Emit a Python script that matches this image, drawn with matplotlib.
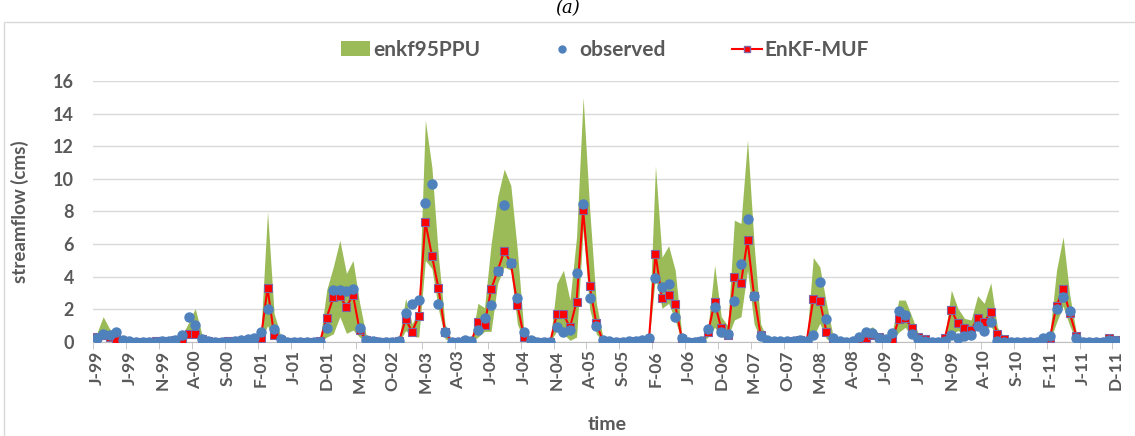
import matplotlib.pyplot as plt
from matplotlib.patches import Patch, Rectangle
from matplotlib.lines import Line2D
import numpy as np

# monthly values, Jan 1999 .. Dec 2011 (156 months)
observed = [
    0.25, 0.5, 0.45, 0.6, 0.1, 0.05, 0.03, 0.02, 0.02, 0.03, 0.05, 0.05,
    0.1, 0.4, 1.55, 1.05, 0.2, 0.05, 0.03, 0.02, 0.03, 0.05, 0.1, 0.2,
    0.25, 0.63, 2.0, 0.78, 0.16, 0.02, 0.02, 0.02, 0.02, 0.02, 0.03, 0.84,
    3.18, 3.18, 3.1, 3.24, 0.84, 0.12, 0.05, 0.03, 0.02, 0.02, 0.08, 1.75,
    2.3, 2.57, 8.53, 9.71, 2.3, 0.63, 0.03, 0.03, 0.15, 0.05, 0.73, 1.45,
    2.27, 4.37, 8.39, 4.86, 2.67, 0.63, 0.1, 0.03, 0.02, 0.03, 0.9, 0.63,
    0.73, 4.2, 8.49, 2.71, 0.98, 0.1, 0.05, 0.03, 0.02, 0.05, 0.08, 0.15,
    0.25, 3.9, 3.35, 3.55, 1.55, 0.22, 0.03, 0.02, 0.05, 0.8, 2.16, 0.63,
    0.49, 2.51, 4.8, 7.57, 2.84, 0.39, 0.12, 0.05, 0.05, 0.05, 0.08, 0.15,
    0.05, 0.43, 3.67, 1.39, 0.22, 0.05, 0.02, 0.05, 0.33, 0.63, 0.53, 0.22,
    0.16, 0.53, 1.92, 1.65, 0.49, 0.16, 0.05, 0.02, 0.02, 0.08, 0.43, 0.22,
    0.39, 0.43, 0.98, 0.69, 1.2, 0.06, 0.02, 0.02, 0.02, 0.02, 0.02, 0.02,
    0.22, 0.39, 2.02, 2.73, 1.92, 0.22, 0.03, 0.02, 0.02, 0.02, 0.12, 0.08,
]
enkf_muf = [
    0.3, 0.4, 0.3, 0.2, 0.05, 0.03, 0.03, 0.03, 0.03, 0.05, 0.08, 0.08,
    0.1, 0.1, 0.5, 0.5, 0.2, 0.05, 0.03, 0.03, 0.05, 0.05, 0.08, 0.05,
    0.05, 0.27, 3.3, 0.43, 0.1, 0.02, 0.02, 0.02, 0.02, 0.02, 0.05, 1.5,
    2.73, 2.8, 2.16, 2.88, 0.73, 0.1, 0.05, 0.03, 0.03, 0.03, 0.05, 1.39,
    0.63, 1.6, 7.35, 5.3, 3.29, 0.6, 0.02, 0.03, 0.05, 0.03, 1.2, 1.04,
    3.22, 4.37, 5.59, 4.86, 2.27, 0.33, 0.05, 0.03, 0.03, 0.03, 1.7, 1.7,
    0.9, 2.47, 8.08, 3.43, 1.14, 0.08, 0.03, 0.02, 0.02, 0.03, 0.05, 0.05,
    0.1, 5.39, 2.67, 2.88, 2.3, 0.2, 0.03, 0.02, 0.05, 0.6, 2.43, 0.84,
    0.45, 3.96, 3.6, 6.24, 2.84, 0.4, 0.03, 0.03, 0.03, 0.03, 0.05, 0.1,
    0.05, 2.63, 2.53, 0.63, 0.1, 0.03, 0.02, 0.03, 0.1, 0.22, 0.43, 0.3,
    0.08, 0.12, 1.39, 1.45, 0.84, 0.33, 0.16, 0.03, 0.02, 0.22, 1.96, 1.14,
    0.84, 0.73, 1.45, 1.24, 1.82, 0.49, 0.16, 0.02, 0.02, 0.02, 0.02, 0.02,
    0.02, 0.27, 2.22, 3.24, 1.8, 0.39, 0.03, 0.02, 0.02, 0.02, 0.22, 0.12,
]
ppu_low = [
    0.1, 0.2, 0.15, 0.1, 0.0, 0.0, 0.0, 0.0, 0.0, 0.0, 0.0, 0.0,
    0.0, 0.05, 0.3, 0.3, 0.05, 0.0, 0.0, 0.0, 0.0, 0.0, 0.0, 0.0,
    0.0, 0.1, 1.0, 0.2, 0.02, 0.0, 0.0, 0.0, 0.0, 0.0, 0.0, 0.3,
    0.5, 1.55, 0.53, 0.73, 0.3, 0.02, 0.0, 0.0, 0.0, 0.0, 0.0, 0.7,
    0.35, 0.3, 5.0, 4.5, 2.0, 0.2, 0.0, 0.0, 0.0, 0.0, 0.3, 0.65,
    0.65, 3.6, 4.6, 4.4, 1.1, 0.1, 0.0, 0.0, 0.0, 0.0, 0.7, 0.5,
    0.1, 0.3, 6.9, 2.0, 0.5, 0.02, 0.0, 0.0, 0.0, 0.0, 0.0, 0.0,
    0.0, 4.0, 2.06, 2.37, 1.35, 0.05, 0.0, 0.0, 0.0, 0.3, 0.9, 0.3,
    0.3, 1.35, 1.55, 4.4, 1.1, 0.15, 0.0, 0.0, 0.0, 0.0, 0.0, 0.0,
    0.0, 0.3, 1.14, 0.2, 0.02, 0.0, 0.0, 0.0, 0.05, 0.1, 0.25, 0.1,
    0.0, 0.05, 0.6, 0.9, 0.3, 0.05, 0.0, 0.0, 0.0, 0.0, 0.45, 0.7,
    0.5, 0.5, 0.8, 0.7, 1.0, 0.15, 0.02, 0.0, 0.0, 0.0, 0.0, 0.0,
    0.0, 0.1, 1.2, 2.2, 1.0, 0.1, 0.0, 0.0, 0.0, 0.0, 0.0, 0.0,
]
ppu_up = [
    0.5, 1.55, 0.8, 0.5, 0.2, 0.1, 0.08, 0.08, 0.08, 0.1, 0.15, 0.15,
    0.2, 0.4, 1.2, 2.05, 0.5, 0.15, 0.1, 0.08, 0.1, 0.12, 0.15, 0.25,
    0.3, 0.6, 8.0, 1.75, 0.4, 0.06, 0.06, 0.06, 0.06, 0.06, 0.15, 3.2,
    4.6, 6.24, 4.2, 5.0, 2.4, 0.4, 0.15, 0.08, 0.08, 0.08, 0.2, 2.67,
    1.1, 2.0, 13.6, 10.7, 5.2, 1.1, 0.1, 0.08, 0.15, 0.1, 2.37, 2.1,
    6.0, 8.9, 10.6, 9.6, 5.6, 0.6, 0.2, 0.08, 0.08, 0.1, 3.6, 4.4,
    2.57, 6.45, 15.0, 8.1, 2.4, 0.3, 0.1, 0.08, 0.08, 0.1, 0.15, 0.2,
    0.35, 10.8, 5.2, 5.9, 4.4, 0.5, 0.1, 0.08, 0.15, 0.9, 4.7, 1.55,
    1.0, 7.47, 7.27, 12.4, 6.0, 1.1, 0.2, 0.1, 0.1, 0.1, 0.15, 0.25,
    0.15, 5.18, 4.6, 2.37, 0.4, 0.1, 0.08, 0.1, 0.4, 0.7, 0.94, 0.5,
    0.25, 0.6, 2.57, 2.57, 1.55, 0.5, 0.25, 0.08, 0.08, 0.3, 3.18, 2.06,
    1.45, 1.35, 2.84, 2.37, 3.63, 0.9, 0.3, 0.06, 0.06, 0.06, 0.06, 0.06,
    0.1, 0.6, 4.4, 6.45, 2.9, 0.6, 0.1, 0.06, 0.06, 0.06, 0.3, 0.2,
]
tick_labels = [
    'J-99', 'J-99', 'N-99', 'A-00', 'S-00', 'F-01', 'J-01', 'D-01',
    'M-02', 'O-02', 'M-03', 'A-03', 'J-04', 'J-04', 'N-04', 'A-05',
    'S-05', 'F-06', 'J-06', 'D-06', 'M-07', 'O-07', 'M-08', 'A-08',
    'J-09', 'J-09', 'N-09', 'A-10', 'S-10', 'F-11', 'J-11', 'D-11',
]

plt.rcParams['font.family'] = ['Lato', 'DejaVu Sans']
grey = '#595959'

x = np.arange(len(observed))

fig = plt.figure(figsize=(11.35, 4.36), dpi=100)
ax = fig.add_axes([93.3/1135, 94/436, (1119-93.3)/1135, 261/436])

ax.fill_between(x, ppu_low, ppu_up, color='#9bbb59', lw=0, zorder=2)
ax.plot(x, enkf_muf, '-s', color='#ff0000', lw=1.5, ms=5.5, mfc='#ff0000',
        mec='#8064a2', mew=0.8, zorder=3)
ax.plot(x, observed, 'o', color='#4f81bd', ms=6.5, mec='#4f81bd', zorder=4)

ax.set_xlim(-0.5, len(observed) - 0.5)
ax.set_ylim(0, 16)
ax.set_yticks(range(0, 17, 2))
ax.grid(axis='y', color='#d9d9d9', lw=1)
ax.set_axisbelow(True)

ax.set_xticks(np.arange(0, len(observed), 5))
ax.set_xticklabels(tick_labels, rotation=90, fontweight='bold', color=grey, fontsize=12.5)
ax.set_xticks(np.arange(0, len(observed), 5) - 0.5, minor=True)
ax.tick_params(axis='x', which='major', length=0, pad=6)
ax.tick_params(axis='x', which='minor', length=5, color='#bfbfbf', direction='out')
ax.tick_params(axis='y', length=0, pad=14)
for lab in ax.get_yticklabels():
    lab.set_fontweight('bold')
    lab.set_color(grey)
    lab.set_fontsize(13)

for s in ['top', 'right', 'left']:
    ax.spines[s].set_visible(False)
ax.spines['bottom'].set_color('#bfbfbf')

ax.set_ylabel('streamflow (cms)', fontsize=13.5, fontweight='bold', color=grey)
ax.yaxis.set_label_coords(-0.063, 0.5)
fig.text(607/1135, 1 - 424/436, 'time', ha='center', va='center',
         fontsize=14, fontweight='bold', color=grey)

handles = [
    Patch(facecolor='#9bbb59', edgecolor='none', label='enkf95PPU'),
    Line2D([], [], ls='none', marker='o', color='#4f81bd', ms=5, label='observed'),
    Line2D([], [], color='#ff0000', lw=1.5, marker='s', ms=5, mfc='#ff0000',
           mec='#8064a2', label='EnKF-MUF'),
]
leg = fig.legend(handles=handles, loc='center', bbox_to_anchor=(605/1135, 1 - 50/436),
                 ncol=3, frameon=False, fontsize=15, columnspacing=3.2,
                 handlelength=1.4, handletextpad=0.15)
for t in leg.get_texts():
    t.set_fontweight('bold')
    t.set_color(grey)

fig.patches.append(Rectangle((4/1135, -0.01), 1.0, 0.98 - 13/436 + 0.01,
                             transform=fig.transFigure, fill=False,
                             edgecolor='#d9d9d9', lw=1))
fig.text(0.5, 1 - 8/436, '(a)', ha='center', va='center', fontsize=13,
         family='DejaVu Serif', style='italic', color='black')

fig.savefig('out.png', dpi=100, facecolor='white')
